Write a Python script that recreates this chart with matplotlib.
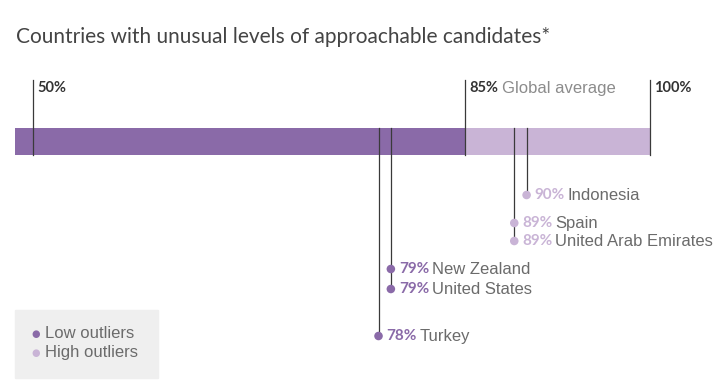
import matplotlib.pyplot as plt
from matplotlib.patches import Rectangle

# data
countries = ['Turkey', 'New Zealand', 'United States', 'Spain', 'United Arab Emirates', 'Indonesia']
values = [78, 79, 79, 89, 89, 90]
global_avg = 85
scale_ticks = [50, 85, 100]
tick_labels = ['50%', '85%', '100%']

# label rows (pixel y of each dot)
label_y = [336, 269, 289, 223, 241, 195]

dark = '#8a6aa8'
light = '#c9b4d6'
grey = '#6b6b6b'
line_c = '#3a3a3a'
sans = ['Liberation Sans', 'DejaVu Sans']
narrow = ['Liberation Sans Narrow', 'Lato']

W, H = 725, 392
fig = plt.figure(figsize=(W / 100, H / 100), dpi=100)
ax = fig.add_axes([0, 0, 1, 1])
ppu = (650 - 33) / 50.0
ax.set_xlim(50 - 33 / ppu, 100 + (W - 650) / ppu)
ax.set_ylim(H, 0)
ax.axis('off')

bar_left = 50 - 18 / ppu
ax.barh(141.5, global_avg - bar_left, left=bar_left, height=27, color=dark, zorder=1)
ax.barh(141.5, 100 - global_avg, left=global_avg, height=27, color=light, zorder=1)

# scale ticks
for v, lab in zip(scale_ticks, tick_labels):
    ax.plot([v, v], [80, 155], color=line_c, lw=0.9, zorder=2)
    ax.text(v + 4 / ppu, 88, lab, fontsize=10.5, fontweight='bold', color='#333333',
            family=narrow, va='center', ha='left')
ax.text(global_avg + 37 / ppu, 88, 'Global average', fontsize=12, color='#8c8c8c',
        family=sans, va='center', ha='left')

# outliers: a leader line per group down to its lowest dot
groups = {}
for v, y in zip(values, label_y):
    groups[v] = max(groups.get(v, 0), y)
for v, ymax in groups.items():
    ax.plot([v, v], [128, ymax], color=line_c, lw=0.9, zorder=2)

for name, v, y in zip(countries, values, label_y):
    c = dark if v < global_avg else light
    ax.scatter([v], [y], s=38, color=c, zorder=3, edgecolors='none')
    t = ax.text(v + 8 / ppu, y, f'{v}%', fontsize=11, fontweight='bold', color=c,
                family=narrow, va='center', ha='left')
    ax.annotate(name, xy=(1, 0.5), xycoords=t, xytext=(2, 0), textcoords='offset points',
                fontsize=12, color=grey, family=sans, va='center', ha='left')

# title
fig.text(16 / W, 1 - 37 / H, 'Countries with unusual levels of approachable candidates*',
         fontsize=15, color='#444444', family='Lato', va='center', ha='left')

# legend box
fig.patches.append(Rectangle((15 / W, 1 - 378 / H), 143 / W, 68 / H,
                             transform=fig.transFigure, color='#efefef', zorder=0))
for lab, c, y in [('Low outliers', dark, 334), ('High outliers', light, 353)]:
    fig.text(31 / W, 1 - y / H, '\u25cf', fontsize=7, color=c, family='DejaVu Sans',
             va='center', ha='left')
    fig.text(45 / W, 1 - y / H, lab, fontsize=12, color=grey, family=sans,
             va='center', ha='left')

fig.savefig('out.png', dpi=100)
